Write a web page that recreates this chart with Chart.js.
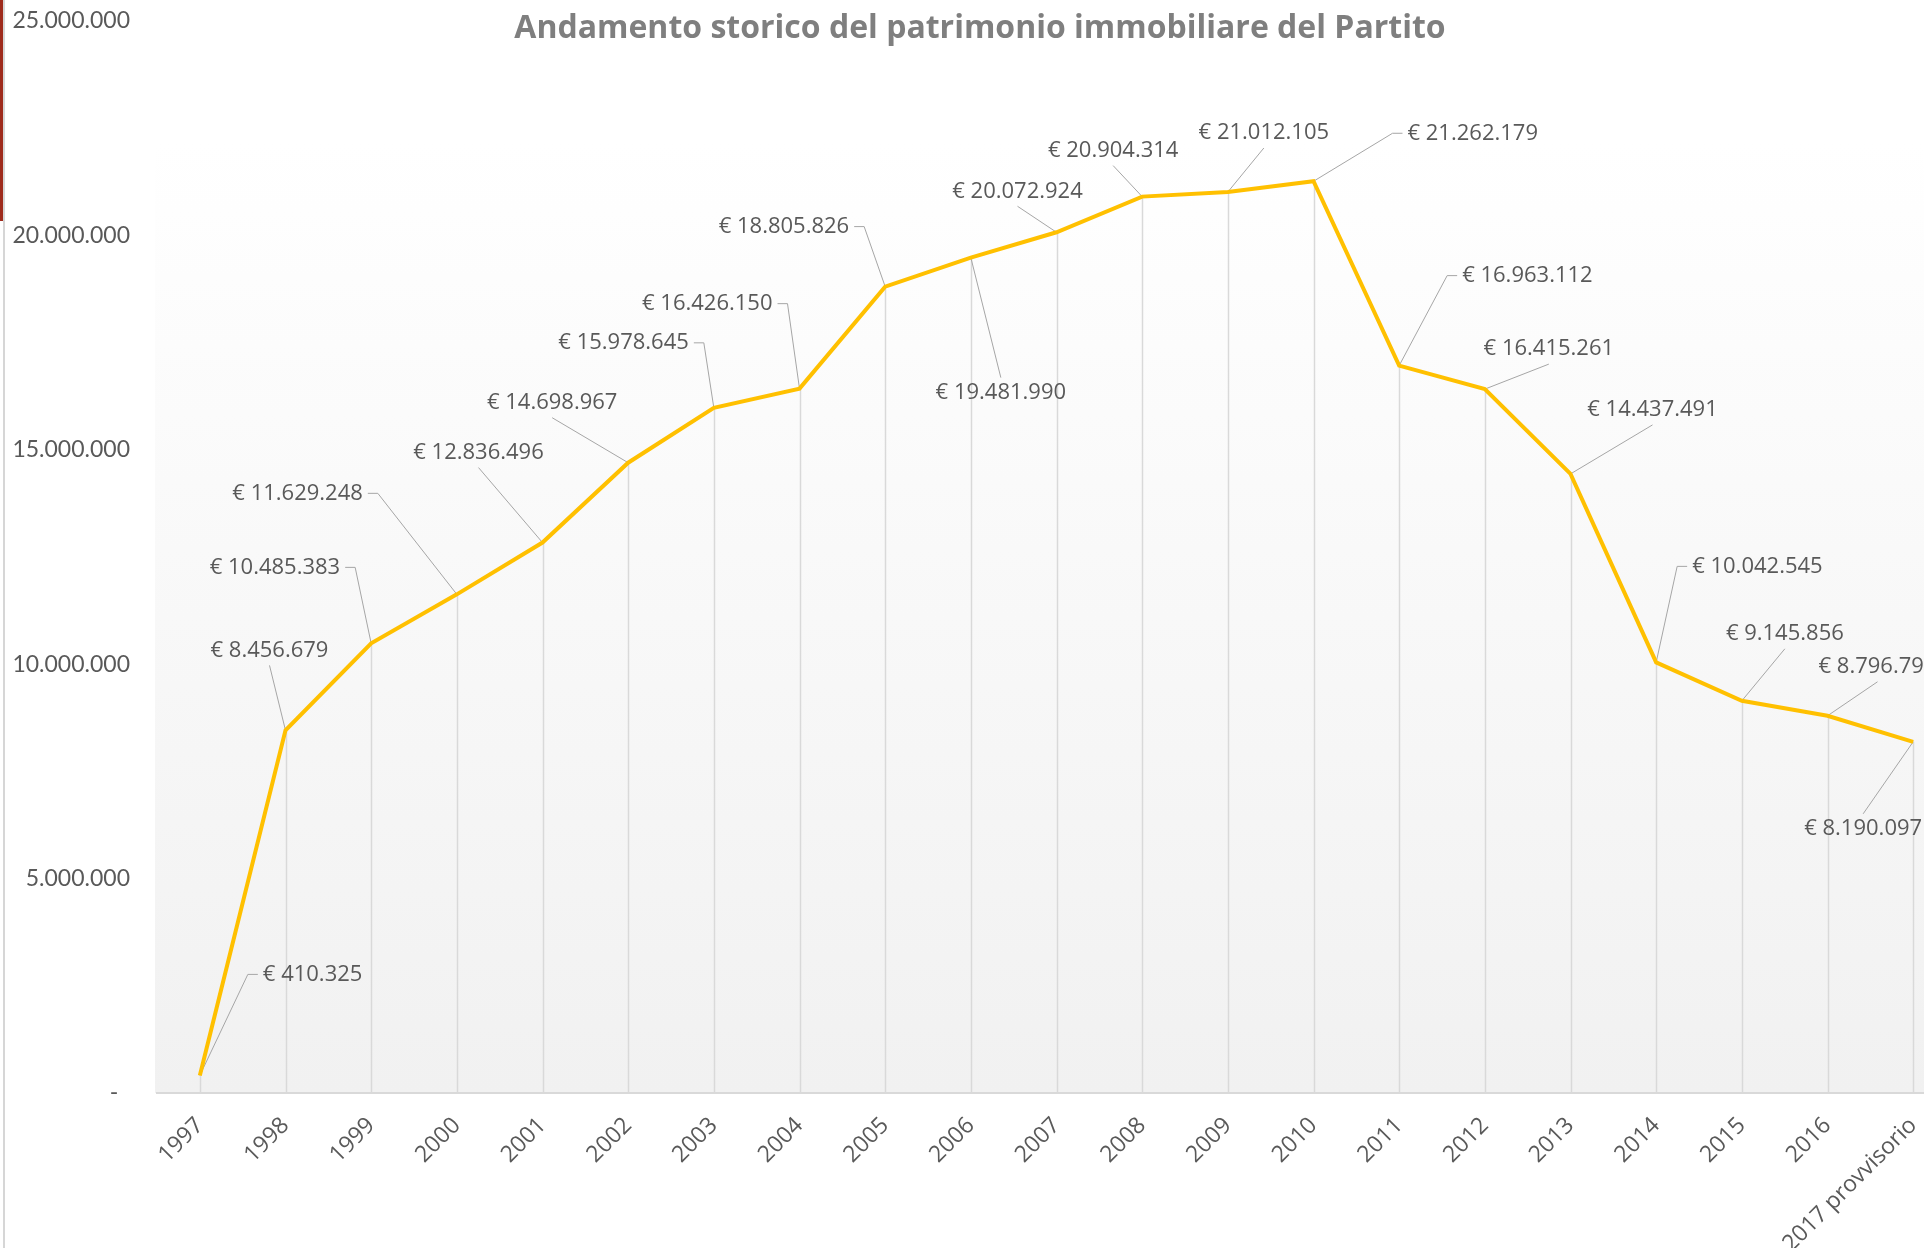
<!DOCTYPE html>
<html>
<head>
<meta charset="utf-8">
<script src="https://cdn.jsdelivr.net/npm/chart.js@4"></script>
<style>
  html, body { margin: 0; padding: 0; background: #fff; overflow: hidden; }
  #wrap { position: relative; width: 1960px; height: 1248px; }
  #edge-red { position: absolute; left: 0; top: 0; width: 3px; height: 221px; background: #9e2a1c; }
  #edge-grey { position: absolute; left: 3px; top: 0; width: 2px; height: 1248px; background: #d6d6d6; }
</style>
</head>
<body>
<div id="wrap">
  <canvas id="patrimonio-chart"></canvas>
  <div id="edge-red"></div>
  <div id="edge-grey"></div>
</div>
<script>
// categories and values
const years = ['1997', '1998', '1999', '2000', '2001', '2002', '2003', '2004', '2005', '2006',
  '2007', '2008', '2009', '2010', '2011', '2012', '2013', '2014', '2015', '2016', '2017 provvisorio'];
const patrimonio = [410325, 8456679, 10485383, 11629248, 12836496, 14698967, 15978645, 16426150,
  18805826, 19481990, 20072924, 20904314, 21012105, 21262179, 16963112, 16415261, 14437491,
  10042545, 9145856, 8796797, 8190097];
const yTickValues = [0, 5000000, 10000000, 15000000, 20000000, 25000000];
const chartTitle = 'Andamento storico del patrimonio immobiliare del Partito';

// where each data label sits relative to its point (px)
const labelAlign = ['left', 'center', 'right', 'right', 'center', 'center', 'right', 'right', 'right', 'center',
  'center', 'center', 'center', 'left', 'left', 'center', 'center', 'left', 'center', 'center', 'center'];
const labelDx = [63, -16, -31, -94, -64, -76, -25, -27, -36, 30, -39, -29, 36, 94, 63, 64, 82, 36, 43, 50, -50];
const labelDy = [-101, -80, -76, -101, -90, -60, -65, -85, -60, 135, -41, -46, -59, -48, -90, -40, -64, -96, -67, -49, 87];

function fmt(v) {
  return v.toString().replace(/\B(?=(\d{3})+(?!\d))/g, '.');
}

const excelLook = {
  id: 'excelLook',
  beforeDraw(chart) {
    const { ctx, chartArea } = chart;
    const top = chartArea.top + 121;
    const g = ctx.createLinearGradient(0, top, 0, chartArea.bottom);
    g.addColorStop(0, '#ffffff');
    g.addColorStop(1, '#f1f1f1');
    ctx.save();
    ctx.fillStyle = g;
    ctx.fillRect(chartArea.left - 2, top, chartArea.right - chartArea.left + 2, chartArea.bottom - top);
    ctx.restore();
  },
  beforeDatasetsDraw(chart) {
    const { ctx, chartArea } = chart;
    const pts = chart.getDatasetMeta(0).data;
    ctx.save();
    // drop lines
    ctx.strokeStyle = '#d9d9d9';
    ctx.lineWidth = 1.5;
    pts.forEach(p => {
      ctx.beginPath();
      ctx.moveTo(Math.round(p.x) + 0.5, p.y);
      ctx.lineTo(Math.round(p.x) + 0.5, chartArea.bottom);
      ctx.stroke();
    });
    // leader lines
    ctx.strokeStyle = '#a6a6a6';
    ctx.lineWidth = 1;
    pts.forEach((p, i) => {
      const lx = p.x + labelDx[i];
      const ly = p.y + labelDy[i];
      ctx.beginPath();
      if (labelAlign[i] === 'left') {
        ctx.moveTo(p.x, p.y);
        ctx.lineTo(lx - 15, ly);
        ctx.lineTo(lx - 5, ly);
      } else if (labelAlign[i] === 'right') {
        ctx.moveTo(p.x, p.y);
        ctx.lineTo(lx + 15, ly);
        ctx.lineTo(lx + 5, ly);
      } else {
        const ey = labelDy[i] < 0 ? ly + 15 : ly - 15;
        ctx.moveTo(p.x, p.y);
        ctx.lineTo(lx, ey);
      }
      ctx.stroke();
    });
    ctx.restore();
  },
  afterDatasetsDraw(chart) {
    const { ctx } = chart;
    const pts = chart.getDatasetMeta(0).data;
    ctx.save();
    ctx.font = '22px "Open Sans"';
    ctx.fillStyle = '#595959';
    ctx.textBaseline = 'middle';
    pts.forEach((p, i) => {
      ctx.textAlign = labelAlign[i];
      ctx.fillText('€ ' + fmt(patrimonio[i]), p.x + labelDx[i], p.y + labelDy[i]);
    });
    ctx.restore();
  },
  afterDraw(chart) {
    const { ctx } = chart;
    ctx.save();
    ctx.font = 'bold 32px "Open Sans"';
    ctx.fillStyle = '#7f7f7f';
    ctx.textAlign = 'center';
    ctx.textBaseline = 'middle';
    ctx.fillText(chartTitle, 980, 29);
    ctx.restore();
  }
};

function build() {
  const ctx = document.getElementById('patrimonio-chart').getContext('2d');
  new Chart(ctx, {
    type: 'line',
    data: {
      labels: years,
      datasets: [{
        label: 'Patrimonio',
        data: patrimonio,
        borderColor: '#ffc000',
        borderWidth: 4,
        pointRadius: 0,
        tension: 0,
        fill: false
      }]
    },
    options: {
      responsive: true,
      maintainAspectRatio: false,
      animation: false,
      layout: { padding: { left: 0, right: 4, top: 21, bottom: 0 } },
      plugins: {
        legend: { display: false },
        title: { display: false },
        tooltip: { enabled: false }
      },
      scales: {
        x: {
          offset: true,
          grid: { display: false },
          border: { display: true, color: '#d9d9d9', width: 2 },
          ticks: {
            minRotation: 45,
            maxRotation: 45,
            autoSkip: false,
            padding: 11,
            color: '#595959',
            font: { family: 'Open Sans', size: 23 }
          },
          afterFit: s => { s.height = 155; s.paddingLeft = 0; s.paddingRight = 0; }
        },
        y: {
          min: 0,
          max: 25000000,
          grid: { display: false },
          border: { display: false },
          afterBuildTicks: s => { s.ticks = yTickValues.map(v => ({ value: v })); },
          ticks: {
            padding: 19,
            color: '#595959',
            font: { family: 'Lato', size: 23 },
            callback: v => v === 0 ? '-  ' : fmt(v)
          },
          afterFit: s => { s.width = 157; s.paddingTop = 0; s.paddingBottom = 0; }
        }
      }
    },
    plugins: [excelLook]
  });
}

Promise.all([
  document.fonts.load('22px "Open Sans"'),
  document.fonts.load('bold 32px "Open Sans"'),
  document.fonts.load('23px "Lato"')
]).then(build, build);
</script>
</body>
</html>
